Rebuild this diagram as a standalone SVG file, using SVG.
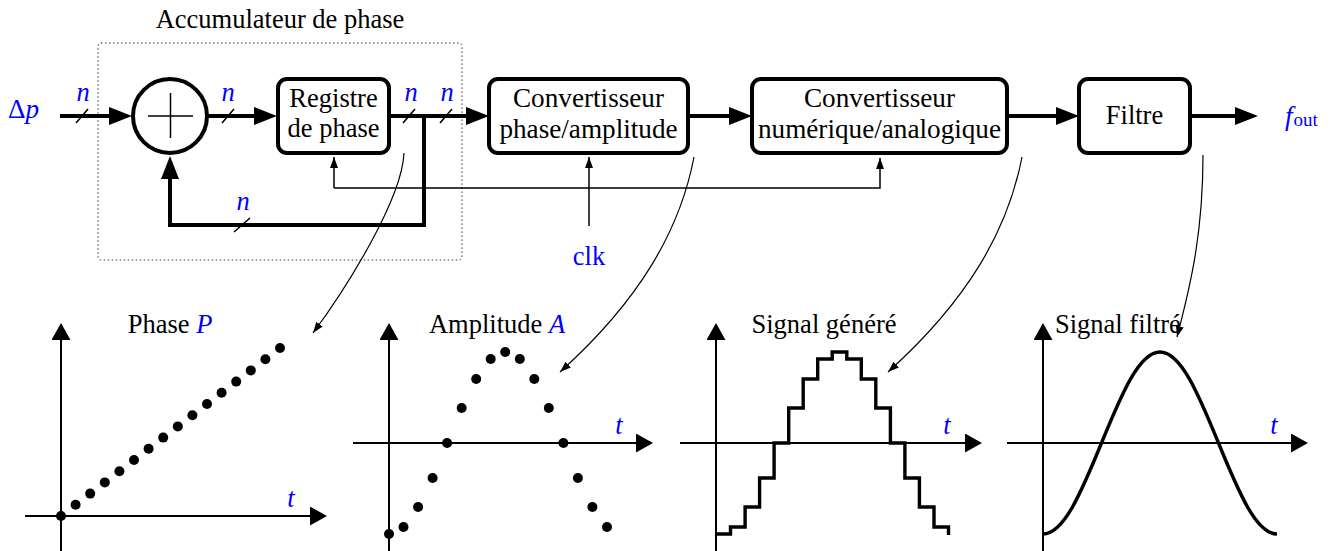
<svg xmlns="http://www.w3.org/2000/svg" width="1339" height="551" viewBox="0 0 1339 551">
<style>
text{font-family:"Liberation Serif","Times New Roman",serif;font-size:26.5px;fill:#000}
.b{fill:#0000ff}
.it{font-style:italic}
.m{text-anchor:middle}
.big{font-size:27.2px}
.thick{fill:none;stroke:#000;stroke-width:4;stroke-linejoin:miter}
.box{fill:#fff;stroke:#000;stroke-width:4}
.thin{fill:none;stroke:#000;stroke-width:1.5}
.curve{fill:none;stroke:#000;stroke-width:1.2}
.slash{stroke:#000;stroke-width:1.6}
.axis{fill:none;stroke:#000;stroke-width:2}
.sig{fill:none;stroke:#000;stroke-width:3.4;stroke-linejoin:miter}
</style>
<defs>
<marker id="ah" markerUnits="userSpaceOnUse" markerWidth="24" markerHeight="20" viewBox="0 0 24 20" refX="12" refY="10" orient="auto"><path d="M0,1 L23,10 L0,19 Z" fill="#000"/></marker>
<marker id="axh" markerUnits="userSpaceOnUse" markerWidth="18" markerHeight="20" viewBox="0 0 18 20" refX="8" refY="9.5" orient="auto"><path d="M0,0 L17,9.5 L0,19 Z" fill="#000"/></marker>
<marker id="sah" markerUnits="userSpaceOnUse" markerWidth="12" markerHeight="9" viewBox="0 0 12 9" refX="11" refY="4" orient="auto"><path d="M0,0 L11,4 L0,8 Z" fill="#000"/></marker>
</defs>

<g id="accumulateur">
<rect x="98" y="43" width="364" height="217" rx="3" fill="none" stroke="#333" stroke-width="1" stroke-dasharray="1.5 2.5"/>
<text x="280" y="28" class="m">Accumulateur de phase</text>
</g>

<g id="connectors">
<path class="thick" d="M60,116 H121" marker-end="url(#ah)"/>
<path class="thick" d="M207,116 H266" marker-end="url(#ah)"/>
<path class="thick" d="M389,116 H478" marker-end="url(#ah)"/>
<path class="thick" d="M688,116 H741" marker-end="url(#ah)"/>
<path class="thick" d="M1007,116 H1068" marker-end="url(#ah)"/>
<path class="thick" d="M1190,116 H1247" marker-end="url(#ah)"/>
<path class="thick" d="M424,116 V225 H170 V167" marker-end="url(#ah)"/>
<line class="slash" x1="76" y1="123" x2="88" y2="109"/>
<line class="slash" x1="222" y1="123" x2="234" y2="109"/>
<line class="slash" x1="403" y1="123" x2="415" y2="109"/>
<line class="slash" x1="440" y1="123" x2="452" y2="109"/>
<line class="slash" x1="234" y1="232" x2="250" y2="218"/>
<path class="thin" d="M334,188 V157" marker-end="url(#sah)"/>
<path class="thin" d="M334,188 H880 V158" marker-end="url(#sah)"/>
<path class="thin" d="M589,226 V157" marker-end="url(#sah)"/>
<path class="curve" d="M404,153 C402,200 345,290 313,333" marker-end="url(#sah)"/>
<path class="curve" d="M694,157 C680,230 640,300 560,372" marker-end="url(#sah)"/>
<path class="curve" d="M1022,157 C1008,230 968,300 888,372" marker-end="url(#sah)"/>
<path class="curve" d="M1203,155 C1203,230 1192,280 1177,337" marker-end="url(#sah)"/>
</g>

<g id="labels">
<text x="8" y="118" class="b big">Δ<tspan class="it">p</tspan></text>
<text x="83" y="101" class="b it m">n</text>
<text x="228" y="101" class="b it m">n</text>
<text x="411" y="101" class="b it m">n</text>
<text x="447" y="101" class="b it m">n</text>
<text x="243" y="210" class="b it m">n</text>
<text x="1285" y="125" class="b it big">f<tspan font-style="normal" font-size="19" dx="1" dy="1">out</tspan></text>
<text x="589" y="265" class="b m">clk</text>
</g>

<g id="adder">
<circle cx="170" cy="116" r="37" class="box"/>
<line x1="148" y1="116" x2="193" y2="116" class="thin"/>
<line x1="170.5" y1="93" x2="170.5" y2="138" class="thin"/>
</g>

<g id="registre">
<rect x="278" y="79" width="111" height="74" rx="9" class="box"/>
<text x="333.5" y="107" class="m">Registre</text>
<text x="333.5" y="137" class="m">de phase</text>
</g>

<g id="conv-pa">
<rect x="489" y="79" width="199" height="74" rx="9" class="box"/>
<text x="588.5" y="107" class="m big">Convertisseur</text>
<text x="588.5" y="138" class="m big">phase/amplitude</text>
</g>

<g id="cna">
<rect x="752" y="79" width="255" height="74" rx="9" class="box"/>
<text x="879.5" y="107" class="m big">Convertisseur</text>
<text x="879.5" y="138" class="m big">numérique/analogique</text>
</g>

<g id="filtre">
<rect x="1079" y="79" width="111" height="74" rx="9" class="box"/>
<text x="1134.5" y="124" class="m">Filtre</text>
</g>

<g id="plot-phase">
<path class="axis" d="M61,551 V332" marker-end="url(#axh)"/>
<path class="axis" d="M25,516 H318" marker-end="url(#axh)"/>
<text x="170" y="333" class="m">Phase <tspan class="b it">P</tspan></text>
<text x="291" y="507" class="b it m">t</text>
<g fill="#000">
<circle cx="61" cy="516" r="5"/><circle cx="75.6" cy="504.8" r="5"/><circle cx="90.2" cy="493.6" r="5"/><circle cx="104.8" cy="482.4" r="5"/>
<circle cx="119.4" cy="471.2" r="5"/><circle cx="134" cy="460" r="5"/><circle cx="148.6" cy="448.8" r="5"/><circle cx="163.2" cy="437.6" r="5"/>
<circle cx="177.8" cy="426.4" r="5"/><circle cx="192.4" cy="415.2" r="5"/><circle cx="207" cy="404" r="5"/><circle cx="221.6" cy="392.8" r="5"/>
<circle cx="236.2" cy="381.6" r="5"/><circle cx="250.8" cy="370.4" r="5"/><circle cx="265.4" cy="359.2" r="5"/><circle cx="280" cy="348" r="5"/>
</g>
</g>

<g id="plot-amplitude">
<path class="axis" d="M389,551 V332" marker-end="url(#axh)"/>
<path class="axis" d="M353,443 H644" marker-end="url(#axh)"/>
<text x="497" y="333" class="m">Amplitude <tspan class="b it">A</tspan></text>
<text x="619" y="434" class="b it m">t</text>
<g fill="#000">
<circle cx="389" cy="534" r="5"/><circle cx="403.5" cy="527" r="5"/><circle cx="418.1" cy="507" r="5"/><circle cx="432.6" cy="478" r="5"/>
<circle cx="447.1" cy="443" r="5"/><circle cx="461.7" cy="408" r="5"/><circle cx="476.2" cy="379" r="5"/><circle cx="490.7" cy="359" r="5"/>
<circle cx="505.2" cy="352" r="5"/><circle cx="519.8" cy="359" r="5"/><circle cx="534.3" cy="379" r="5"/><circle cx="548.8" cy="408" r="5"/>
<circle cx="563.4" cy="443" r="5"/><circle cx="577.9" cy="478" r="5"/><circle cx="592.4" cy="507" r="5"/><circle cx="607" cy="527" r="5"/>
</g>
</g>

<g id="plot-signal-genere">
<path class="axis" d="M716,551 V332" marker-end="url(#axh)"/>
<path class="axis" d="M680,443 H973" marker-end="url(#axh)"/>
<text x="824" y="333" class="m">Signal généré</text>
<text x="947" y="434" class="b it m">t</text>
<path class="sig" d="M716,534 H730.5 V527 H745.1 V507 H759.6 V478 H774.1 V443 H788.7 V408 H803.2 V379 H817.7 V359 H832.2 V352 H846.8 V359 H861.3 V379 H875.8 V408 H890.4 V443 H904.9 V478 H919.4 V507 H934 V527 H948.5 V535"/>
</g>

<g id="plot-signal-filtre">
<path class="axis" d="M1043,551 V332" marker-end="url(#axh)"/>
<path class="axis" d="M1007,443 H1299" marker-end="url(#axh)"/>
<text x="1055" y="333">Signal filtré</text>
<text x="1274" y="434" class="b it m">t</text>
<path class="sig" d="M1043,534 C1063.57,534 1080.93,493.26 1101.5,443 C1122.07,392.74 1139.43,352 1160,352 C1180.57,352 1197.93,392.74 1218.5,443 C1239.07,493.26 1256.43,534 1277,534"/>
</g>
</svg>
